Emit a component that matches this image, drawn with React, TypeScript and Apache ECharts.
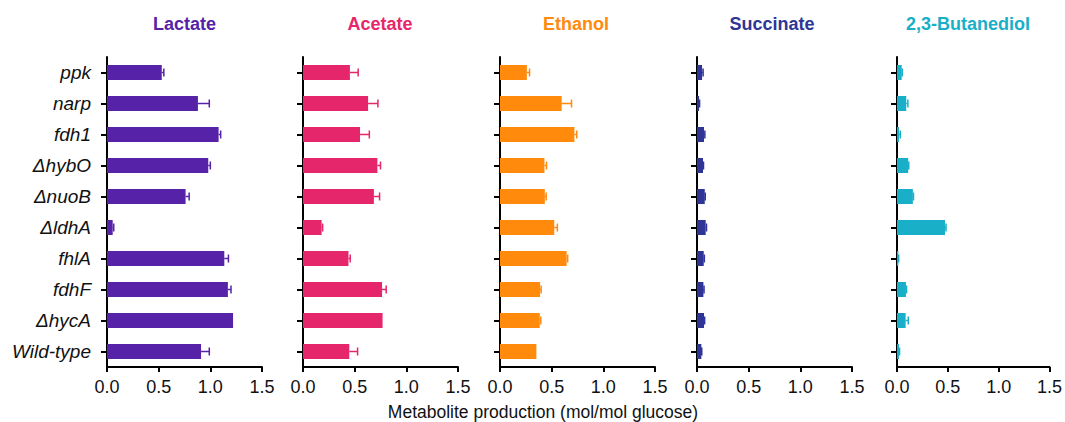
import React, { useEffect, useRef } from "react";
import * as echarts from "echarts";

const categories = ["ppk", "narp", "fdh1", "ΔhybO", "ΔnuoB", "ΔldhA", "fhlA", "fdhF", "ΔhycA", "Wild-type"];
const panelTitles = ["Lactate", "Acetate", "Ethanol", "Succinate", "2,3-Butanediol"];
const panelColors = ["#5522A8", "#E6266A", "#FF8A0C", "#2E3596", "#19AFC8"];
const axisTitle = "Metabolite production (mol/mol glucose)";

const lactate = [0.53, 0.88, 1.08, 0.98, 0.76, 0.055, 1.135, 1.17, 1.22, 0.91];
const lactateErr = [0.02, 0.11, 0.02, 0.02, 0.035, 0.01, 0.04, 0.03, 0, 0.08];
const acetate = [0.454, 0.63, 0.552, 0.72, 0.686, 0.18, 0.44, 0.765, 0.77, 0.448];
const acetateErr = [0.08, 0.095, 0.09, 0.03, 0.055, 0.01, 0.017, 0.04, 0, 0.08];
const ethanol = [0.26, 0.597, 0.72, 0.43, 0.434, 0.525, 0.645, 0.388, 0.385, 0.352];
const ethanolErr = [0.026, 0.095, 0.023, 0.02, 0.013, 0.03, 0.01, 0.01, 0.01, 0];
const succinate = [0.049, 0.02, 0.068, 0.058, 0.075, 0.084, 0.065, 0.062, 0.068, 0.042];
const succinateErr = [0.01, 0.005, 0.008, 0.005, 0.005, 0.008, 0.006, 0.006, 0.006, 0.004];
const butanediol = [0.046, 0.091, 0.02, 0.11, 0.156, 0.472, 0.013, 0.088, 0.085, 0.02];
const butanediolErr = [0.006, 0.016, 0.012, 0.006, 0.006, 0.01, 0.003, 0.006, 0.026, 0.005];

const xMin = 0;
const xMax = 1.5;
const xInterval = 0.5;

const panelValues = [lactate, acetate, ethanol, succinate, butanediol];
const panelErrors = [lactateErr, acetateErr, ethanolErr, succinateErr, butanediolErr];

const gridLefts = [107, 303, 500, 697, 897];
const titleCenters = [184.5, 380, 576, 772, 968];
const FONT = "'Liberation Sans', Arial, Helvetica, sans-serif";

export default function App() {
  const ref = useRef<HTMLDivElement>(null);
  useEffect(() => {
    if (!ref.current) return;
    const chart = echarts.init(ref.current, undefined, { renderer: "svg" });
    const grids: any[] = [];
    const xAxes: any[] = [];
    const yAxes: any[] = [];
    const series: any[] = [];
    const graphics: any[] = [];

    panelValues.forEach((vals, i) => {
      const color = panelColors[i];
      grids.push({ left: gridLefts[i], top: 57, width: 155, height: 310, containLabel: false });
      xAxes.push({
        type: "value",
        gridIndex: i,
        min: xMin,
        max: xMax,
        interval: xInterval,
        splitLine: { show: false },
        axisLine: { show: true, lineStyle: { color: "#000", width: 2 } },
        axisTick: { show: true, length: 5, lineStyle: { color: "#000", width: 2 } },
        axisLabel: {
          color: "#111",
          fontSize: 18,
          fontFamily: FONT,
          margin: 11,
          formatter: (v: number) => v.toFixed(1),
        },
      });
      yAxes.push({
        type: "category",
        gridIndex: i,
        data: categories,
        inverse: true,
        axisLine: { show: true, lineStyle: { color: "#000", width: 2 } },
        axisTick: { show: true, alignWithLabel: true, length: 6, lineStyle: { color: "#000", width: 2 } },
        axisLabel: {
          show: i === 0,
          color: "#111",
          fontSize: 19,
          fontStyle: "italic",
          fontFamily: FONT,
          margin: 16,
        },
      });
      series.push({
        type: "bar",
        xAxisIndex: i,
        yAxisIndex: i,
        data: vals,
        barWidth: 15,
        itemStyle: { color },
        z: 3,
      });
      const errs = panelErrors[i];
      series.push({
        type: "custom",
        xAxisIndex: i,
        yAxisIndex: i,
        z: 2,
        encode: { x: [0, 2], y: 1 },
        data: vals.map((v, k) => [v, k, v + errs[k]]),
        renderItem: (params: any, api: any) => {
          const v = api.value(0);
          const k = api.value(1);
          const hi = api.value(2);
          if (hi - v <= 0) return null;
          const p0 = api.coord([v, k]);
          const p1 = api.coord([hi, k]);
          const style = { stroke: color, lineWidth: 1.5, fill: "none" };
          return {
            type: "group",
            children: [
              { type: "line", shape: { x1: p0[0], y1: p0[1], x2: p1[0], y2: p1[1] }, style },
              { type: "line", shape: { x1: p1[0], y1: p1[1] - 4, x2: p1[0], y2: p1[1] + 4 }, style },
            ],
          };
        },
      });
      graphics.push({
        type: "text",
        x: titleCenters[i],
        y: 24,
        style: {
          text: panelTitles[i],
          fill: color,
          font: `bold 18px ${FONT}`,
          textAlign: "center",
          textVerticalAlign: "middle",
        },
      });
    });

    graphics.push({
      type: "text",
      x: 543,
      y: 412,
      style: {
        text: axisTitle,
        fill: "#111",
        font: `17.5px ${FONT}`,
        textAlign: "center",
        textVerticalAlign: "middle",
      },
    });

    chart.setOption({
      animation: false,
      backgroundColor: "#fff",
      grid: grids,
      xAxis: xAxes,
      yAxis: yAxes,
      series,
      graphic: graphics,
    });
    return () => chart.dispose();
  }, []);
  return (
    <div
      ref={ref}
      style={{ position: "fixed", left: 0, top: 0, width: 1065, height: 422 }}
    />
  );
}
